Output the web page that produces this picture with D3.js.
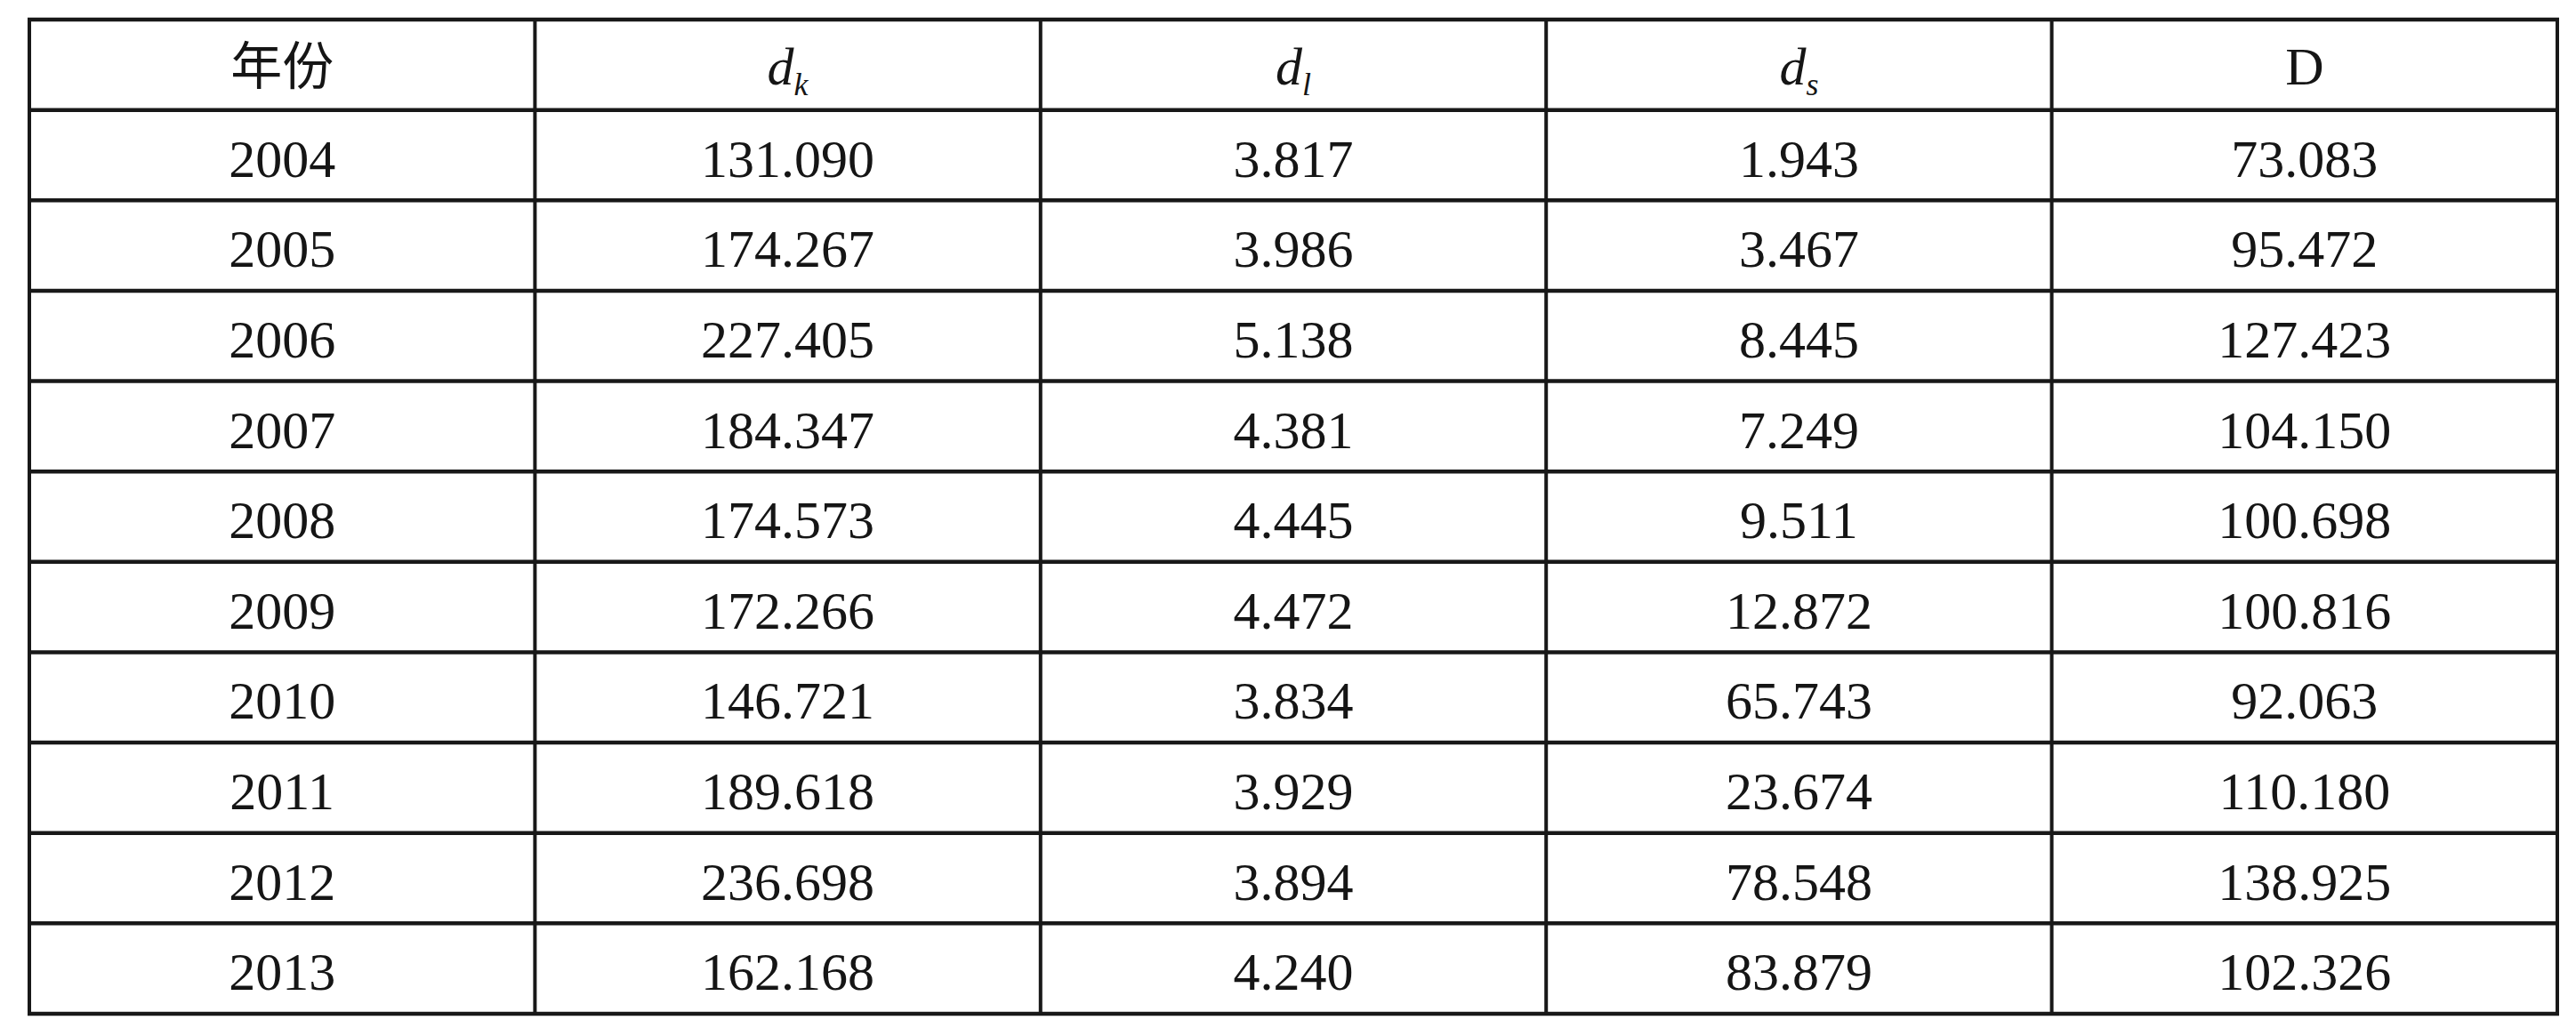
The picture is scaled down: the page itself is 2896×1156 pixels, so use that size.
<!DOCTYPE html>
<html lang="zh">
<head>
<meta charset="UTF-8">
<title>年份 d_k d_l d_s D</title>
<script src="https://d3js.org/d3.v7.min.js"></script>
<style>
    html, body { margin: 0; padding: 0; background: #fff; }
    .cell { font-family: "Liberation Serif", "Times New Roman", serif; font-size: 60px; fill: #151515; }
    .cjk { font-family: "Noto Sans CJK SC", sans-serif; font-size: 58px; }
</style>
</head>
<body>
<div id="table"></div>
<script>
    // Table data
    const years = ["2004", "2005", "2006", "2007", "2008", "2009", "2010", "2011", "2012", "2013"];
    const dk = [131.090, 174.267, 227.405, 184.347, 174.573, 172.266, 146.721, 189.618, 236.698, 162.168];
    const dl = [3.817, 3.986, 5.138, 4.381, 4.445, 4.472, 3.834, 3.929, 3.894, 4.240];
    const ds = [1.943, 3.467, 8.445, 7.249, 9.511, 12.872, 65.743, 23.674, 78.548, 83.879];
    const dD = [73.083, 95.472, 127.423, 104.150, 100.698, 100.816, 92.063, 110.180, 138.925, 102.326];

    const headMain = ["年份", "d", "d", "d", "D"];
    const headSub = ["", "k", "l", "s", ""];

    const W = 2896, H = 1156;
    const box = {left: 33, right: 2875, top: 22, bottom: 1140};
    const fmt = d3.format(".3f");

    const rows = years.map((y, i) => [y, fmt(dk[i]), fmt(dl[i]), fmt(ds[i]), fmt(dD[i])]);

    const x = d3.scaleBand().domain(d3.range(5)).range([box.left, box.right]);
    const y = d3.scaleBand().domain(d3.range(rows.length + 1)).range([box.top, box.bottom]);

    const svg = d3.select("#table").append("svg")
        .attr("width", W)
        .attr("height", H);

    svg.append("rect").attr("width", W).attr("height", H).attr("fill", "#fff");

    // Header row
    const head = svg.append("g");
    headMain.forEach((m, j) => {
        const t = head.append("text")
            .attr("class", j === 0 ? "cell cjk" : "cell")
            .attr("x", x(j) + x.bandwidth() / 2)
            .attr("y", y(0) + 73)
            .attr("text-anchor", "middle");
        t.append("tspan")
            .attr("font-style", headSub[j] ? "italic" : null)
            .text(m);
        if (headSub[j]) {
            t.append("tspan")
                .attr("font-style", "italic")
                .attr("font-size", "36px")
                .attr("dy", 12)
                .text(headSub[j]);
        }
    });

    // Body rows
    const body = svg.append("g");
    rows.forEach((r, i) => {
        body.selectAll(null)
            .data(r)
            .join("text")
            .attr("class", "cell")
            .attr("x", (d, j) => x(j) + x.bandwidth() / 2)
            .attr("y", y(i + 1) + 75)
            .attr("text-anchor", "middle")
            .text(d => d);
    });

    // Grid lines
    const grid = svg.append("g").attr("stroke", "#181818").attr("stroke-width", 4.5);
    const hLines = d3.range(rows.length + 2).map(i => i < rows.length + 1 ? y(i) : box.bottom);
    grid.selectAll(".h")
        .data(hLines)
        .join("line")
        .attr("x1", box.left - 2).attr("x2", box.right + 2)
        .attr("y1", d => d).attr("y2", d => d);

    const vLines = d3.range(6).map(j => j < 5 ? x(j) : box.right);
    grid.selectAll(".v")
        .data(vLines)
        .join("line")
        .attr("y1", box.top).attr("y2", box.bottom)
        .attr("x1", d => d).attr("x2", d => d)
        .attr("stroke-width", 4);
</script>
</body>
</html>
